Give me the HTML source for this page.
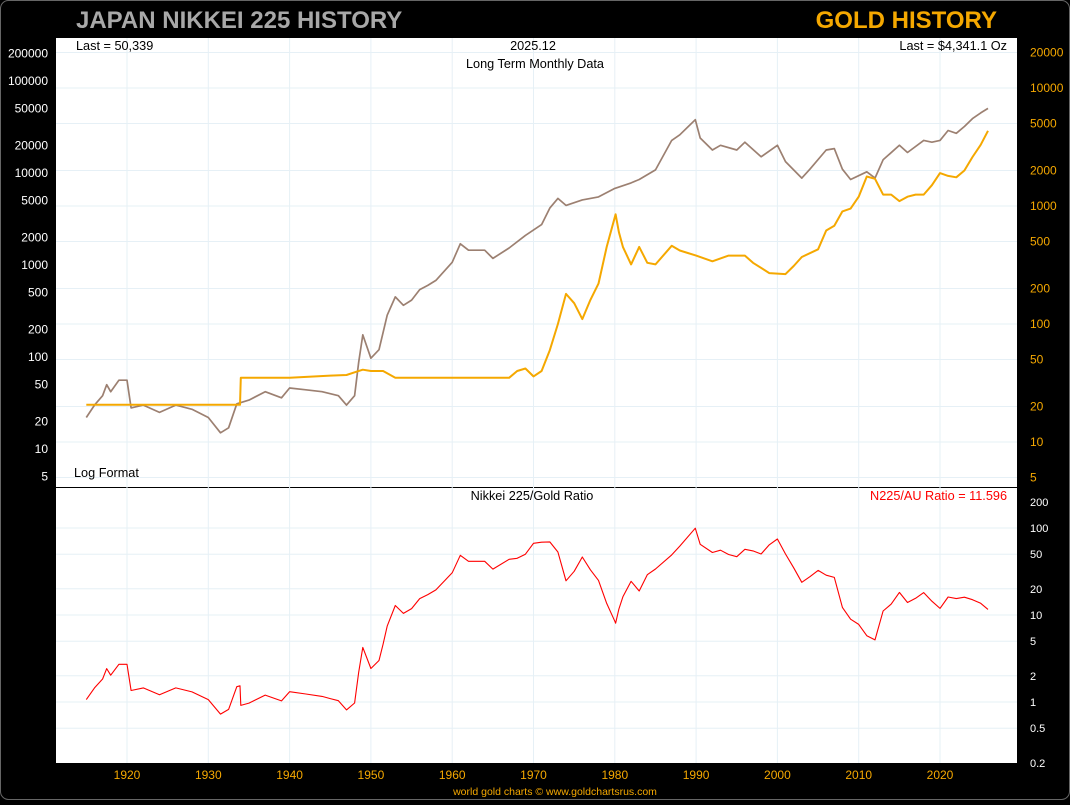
<!DOCTYPE html>
<html><head><meta charset="utf-8"><style>
html,body{margin:0;padding:0;background:#000;}
body{width:1070px;height:800px;overflow:hidden;font-family:"Liberation Sans",sans-serif;}
svg text{font-family:"Liberation Sans",sans-serif;}
</style></head><body>
<svg id="c" width="1070" height="800">
<rect x="0.5" y="0.5" width="1069" height="799" rx="8" fill="#000" stroke="#666"/>
<text x="76" y="28" font-size="24" font-weight="bold" fill="#a8a8a8">JAPAN NIKKEI 225 HISTORY</text>
<text x="997" y="28" font-size="24" font-weight="bold" fill="#f5a800" text-anchor="end">GOLD HISTORY</text>
<rect x="56" y="38" width="961" height="449" fill="#fff"/>
<rect x="56" y="488" width="961" height="275" fill="#fff"/>
<line x1="56" y1="487.5" x2="1017" y2="487.5" stroke="#000"/>
<g id="grid"></g><g id="series"></g><g id="axes"></g>
<text x="76" y="50" font-size="12.7" fill="#000">Last = 50,339</text>
<text x="533" y="50" font-size="12.7" fill="#000" text-anchor="middle">2025.12</text>
<text x="535" y="68" font-size="12.7" fill="#000" text-anchor="middle">Long Term Monthly Data</text>
<text x="1007" y="50" font-size="12.7" fill="#000" text-anchor="end">Last = $4,341.1 Oz</text>
<text x="74" y="477" font-size="12.7" fill="#000">Log Format</text>
<text x="532" y="500" font-size="12.7" fill="#000" text-anchor="middle">Nikkei 225/Gold Ratio</text>
<text x="1007" y="500" font-size="12.7" fill="#ff0000" text-anchor="end">N225/AU Ratio = 11.596</text>
<text x="555" y="795" font-size="10.5" fill="#f5a800" text-anchor="middle">world gold charts © www.goldchartsrus.com</text>
</svg>
<script>
const nkYears=[1915,1916,1917,1917.5,1918,1919,1920,1920.5,1922,1924,1926,1928,1930,1931.5,1932.5,1933.5,1935,1937,1939,1940,1942,1944,1946,1947,1948,1948.5,1949,1950,1951,1952,1953,1954,1955,1956,1957,1958,1960,1961,1962,1964,1965,1967,1969,1971,1972,1973,1974,1976,1978,1980,1982,1983,1985,1987,1988,1989.9,1990.5,1992,1993,1995,1996,1998,2000,2001,2003,2004,2006,2007,2008,2009,2011,2012,2013,2015,2016,2018,2019,2020,2021,2022,2023,2024,2025,2025.9];
const nkValues=[22,30,38,50,42,56,56,28,30,25,30,27,22,15,17,31,34,42,36,46,44,42,38,30,38,88,174,97,120,285,450,365,415,540,600,680,1070,1700,1450,1450,1180,1530,2100,2750,4150,5300,4450,5100,5500,6800,7800,8500,10800,22600,26000,38000,24000,17800,20000,17800,21600,15000,20000,13300,8800,11000,17800,18400,11000,8500,10300,8800,13900,20000,16700,22600,21600,22600,29000,27000,32000,39000,45000,50339];
const auYears=[1915,1933.9,1934,1940,1945,1947,1948,1949,1950,1951.5,1953,1960,1967,1968,1969,1970,1971,1972,1973,1974,1975,1976,1977,1978,1979,1980.1,1980.5,1981,1982,1983,1984,1985,1987,1988,1990,1992,1994,1996,1997,1999,2001,2002,2003,2005,2006,2007,2008,2009,2010,2011,2012,2013,2014,2015,2016,2017,2018,2019,2020,2021,2022,2023,2024,2025,2025.9];
const auValues=[20.67,20.67,35,35,36.5,37,39,41,40,40,35,35,35,40,42,36,40,60,100,180,150,110,160,220,450,850,600,450,320,450,330,320,460,420,380,340,380,380,330,270,265,310,370,430,620,680,900,950,1200,1780,1700,1250,1250,1100,1200,1250,1250,1500,1900,1800,1750,2000,2600,3300,4341.1];
const nkTicks=[200000,100000,50000,20000,10000,5000,2000,1000,500,200,100,50,20,10,5];
const auTicks=[20000,10000,5000,2000,1000,500,200,100,50,20,10,5];
const ratioTicks=[200,100,50,20,10,5,2,1,0.5,0.2];
const yearTicks=[1920,1930,1940,1950,1960,1970,1980,1990,2000,2010,2020];

const NS='http://www.w3.org/2000/svg';
const xS=y=>127+(y-1920)*8.13;
const yNk=v=>449-92*(Math.log10(v)-1);
const yAu=v=>442-118*(Math.log10(v)-1);
const yR=v=>702-87*Math.log10(v);
function mk(tag,attrs,parent,txt){const e=document.createElementNS(NS,tag);for(const k in attrs)e.setAttribute(k,attrs[k]);if(txt!==undefined)e.textContent=txt;parent.appendChild(e);return e;}
const grid=document.getElementById('grid'),ser=document.getElementById('series'),ax=document.getElementById('axes');
yearTicks.forEach(y=>{
  const l=mk('line',{x1:xS(y),x2:xS(y),y1:38,y2:763,stroke:'#e6f0f6','stroke-width':1},grid);
  
  
  const t=mk('text',{x:xS(y),y:779,'font-size':12,fill:'#f5a800','text-anchor':'middle'},ax,String(y));
  
  
});
auTicks.forEach(v=>{
  const y=yAu(v);
  if(y>40&&y<485){const l=mk('line',{x1:56,x2:1017,y1:y,y2:y,stroke:'#e6f0f6'},grid);
  
  }
  const t=mk('text',{x:1030,y:y+4,'font-size':12,fill:'#f5a800'},ax,String(v));
  
  
});
nkTicks.forEach(v=>{
  const t=mk('text',{x:48,y:yNk(v)+4,'font-size':12,fill:'#fff','text-anchor':'end'},ax,String(v));
  
  
});
ratioTicks.forEach(v=>{
  const y=yR(v);
  if(y>505&&y<760){const l=mk('line',{x1:56,x2:1017,y1:y,y2:y,stroke:'#e6f0f6'},grid);
  
  }
  const t=mk('text',{x:1030,y:y+4,'font-size':11,fill:'#fff'},ax,String(v));
  
  
});
function interpLog(xs,vs,x){
  if(x<=xs[0])return vs[0];
  for(let i=1;i<xs.length;i++){if(x<=xs[i]){const f=(x-xs[i-1])/(xs[i]-xs[i-1]);return Math.pow(10,Math.log10(vs[i-1])+f*(Math.log10(vs[i])-Math.log10(vs[i-1])));}}
  return vs[vs.length-1];
}
const nkPath=nkYears.map((y,i)=>(i?'L':'M')+xS(y).toFixed(1)+','+yNk(nkValues[i]).toFixed(1)).join('');
const auPath=auYears.map((y,i)=>(i?'L':'M')+xS(y).toFixed(1)+','+yAu(auValues[i]).toFixed(1)).join('');
const allYears=[...new Set(nkYears.concat(auYears))].sort((a,b)=>a-b);
const rPath=allYears.map((y,i)=>{const r=interpLog(nkYears,nkValues,y)/interpLog(auYears,auValues,y);return (i?'L':'M')+xS(y).toFixed(1)+','+yR(r).toFixed(1);}).join('');
const p1=mk('path',{d:nkPath,fill:'none',stroke:'#8b6a58','stroke-width':1.7,'stroke-linejoin':'round','stroke-opacity':0.85},ser);


const p2=mk('path',{d:auPath,fill:'none',stroke:'#f5a800','stroke-width':2,'stroke-linejoin':'round'},ser);


const p3=mk('path',{d:rPath,fill:'none',stroke:'#ff0000','stroke-width':1.1,'stroke-linejoin':'round'},ser);


</script>
</body></html>
